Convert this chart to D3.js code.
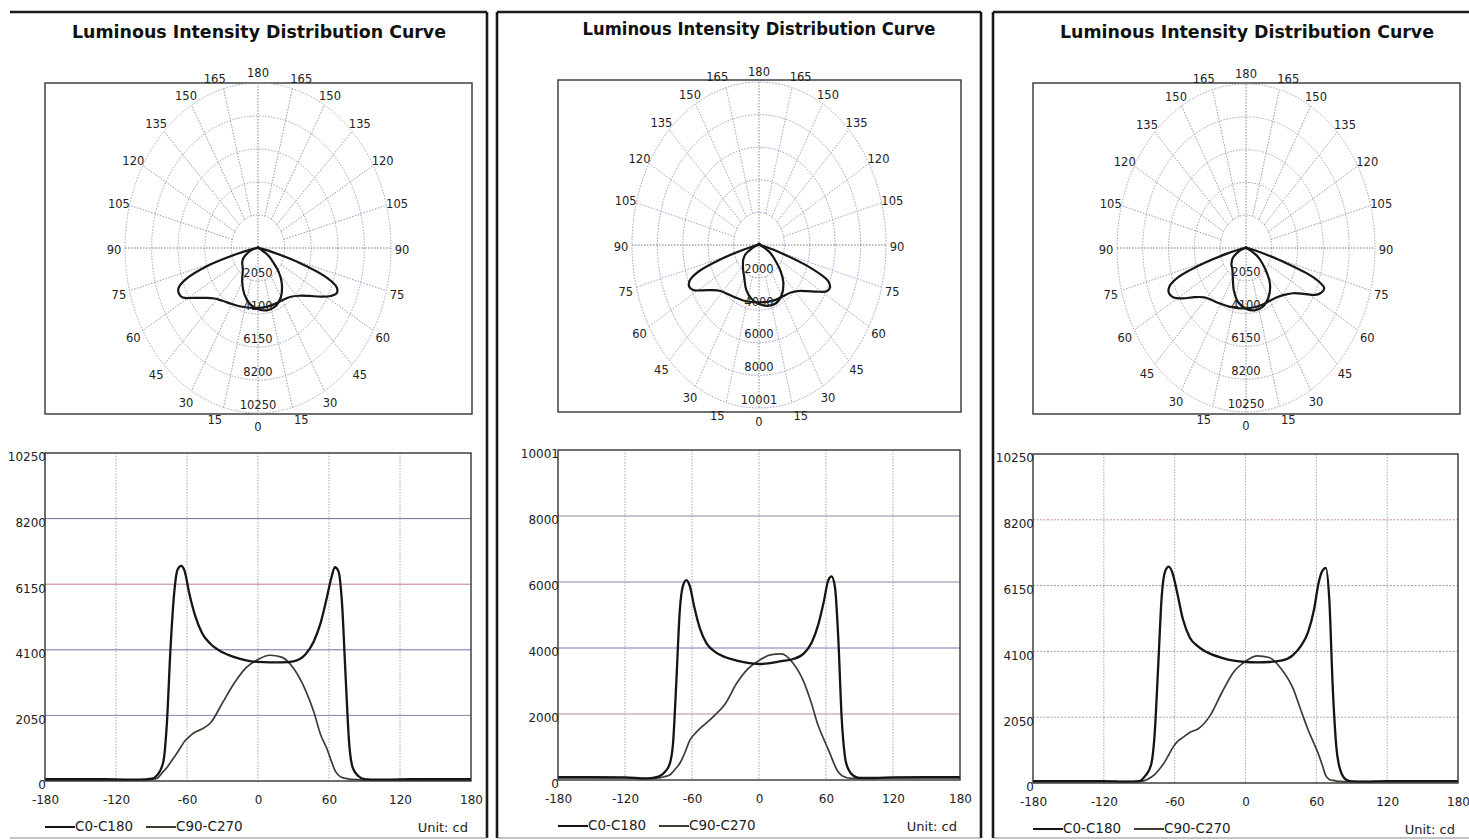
<!DOCTYPE html>
<html><head><meta charset="utf-8">
<script src="https://cdn.jsdelivr.net/npm/d3@7"></script>
<style>body{margin:0;background:#fff;overflow:hidden}svg{display:block}</style>
</head><body>
<svg id="c" width="1469" height="840"></svg>
<script>
// ---------- DATA ----------
const titleText = "Luminous Intensity Distribution Curve";
const seriesNames = ["C0-C180", "C90-C270"];
const unitText = "Unit: cd";
const angles = [-180,-150,-120,-100,-90,-85,-80,-77,-74,-71,-68,-65,-62,-58,-53,-47,-40,-30,-20,-10,0,10,20,30,40,47,53,58,62,65,68,71,74,77,80,85,90,100,120,150,180];

const p1C0  = [60,60,50,40,70,190,600,1800,4100,5800,6600,6720,6560,5850,5150,4600,4280,4020,3870,3770,3720,3710,3710,3740,3950,4350,4950,5700,6350,6680,6550,5550,3300,1200,420,150,60,40,50,60,60];
const p1C90 = [30,30,30,30,50,90,300,420,580,740,900,1070,1240,1390,1530,1630,1820,2440,3060,3540,3800,3930,3870,3520,2850,2180,1440,1030,620,330,180,110,80,60,50,40,30,30,30,30,30];
const p2C0  = [90,90,80,50,100,220,480,1100,3000,5100,5900,6060,5880,5250,4600,4140,3900,3720,3620,3550,3515,3540,3600,3660,3830,4150,4700,5400,6050,6170,5850,4300,1900,700,330,120,60,60,80,90,90];
const p2C90 = [60,60,60,40,60,100,150,250,370,500,700,950,1200,1380,1560,1730,1950,2320,2930,3370,3620,3790,3820,3560,2980,2320,1650,1240,930,680,430,240,140,90,60,50,50,50,60,60,60];
const p3C0  = [60,60,60,40,60,220,560,1500,3600,5800,6600,6740,6560,5950,5100,4520,4250,4030,3900,3810,3770,3760,3770,3810,3980,4270,4700,5400,6250,6600,6700,5700,2900,1100,440,110,50,40,60,60,60];
const p3C90 = [40,40,40,40,50,80,180,260,380,520,680,880,1080,1280,1420,1580,1690,2100,2820,3460,3790,3960,3910,3570,2970,2260,1660,1230,880,560,230,110,80,60,50,40,40,40,40,40,40];

const rings1 = [2050,4100,6150,8200,10250];
const rings2 = [2000,4000,6000,8000,10001];
const rings3 = [2050,4100,6150,8200,10250];
const yTicks1 = [0,2050,4100,6150,8200,10250];
const yTicks2 = [0,2000,4000,6000,8000,10001];
const yTicks3 = [0,2050,4100,6150,8200,10250];
const xTicks = [-180,-120,-60,0,60,120,180];
const angleLabels = [0,15,30,45,60,75,90,105,120,135,150,165,180];

// ---------- LAYOUT / STYLE ----------
const panels = [
  {c0:p1C0, c90:p1C90, rings:rings1, yTicks:yTicks1,
   title:{x:259,y:33,len:374},
   polar:{bx0:45,by0:83,bx1:472,by1:414,cx:258,cy:248,rx:133,ry:165},
   cart:{x0:45,x1:471,y0:453,y1:781},
   ringCol:"#9aa6b4", spokeCol:"#8e96c4",
   hCols:["#8a80b8","#7a6aa8","#c07a98","#6f7090"], hDash:null},
  {c0:p2C0, c90:p2C90, rings:rings2, yTicks:yTicks2,
   title:{x:759,y:30,len:353},
   polar:{bx0:558,by0:80,bx1:961,by1:412,cx:759,cy:245,rx:127,ry:163},
   cart:{x0:558,x1:960,y0:450,y1:780},
   ringCol:"#9a96cc", spokeCol:"#a4a2c8",
   hCols:["#c08a9a","#7a78b8","#8a88a8","#8a8aa0"], hDash:null},
  {c0:p3C0, c90:p3C90, rings:rings3, yTicks:yTicks3,
   title:{x:1247,y:33,len:374},
   polar:{bx0:1033,by0:83,bx1:1460,by1:414,cx:1246,cy:248,rx:129,ry:164},
   cart:{x0:1033,x1:1458,y0:454,y1:783},
   ringCol:"#b496bc", spokeCol:"#a890b4",
   hCols:["#a0a0b4","#a89ab8","#9c9cb0","#c090a8"], hDash:"2,1.5"}
];
const frames = [
  {x0:10, y0:12, x1:487, y1:838, left:false},
  {x0:497, y0:12, x1:981, y1:838, left:true},
  {x0:993, y0:12, x1:1475, y1:838, left:true}
];
const FONT = "'DejaVu Sans', Verdana, sans-serif";

const svg = d3.select("#c");

// frames
frames.forEach(f => {
  const g = svg.append("g").attr("stroke","#1a1a1a").attr("stroke-width",2.6).attr("fill","none");
  g.append("line").attr("x1",f.x0).attr("y1",f.y0).attr("x2",f.x1).attr("y2",f.y0);
  g.append("line").attr("x1",f.x1).attr("y1",f.y0).attr("x2",f.x1).attr("y2",f.y1);
  g.append("line").attr("x1",f.x0).attr("y1",f.y1).attr("x2",f.x1).attr("y2",f.y1).attr("stroke","#888").attr("stroke-width",1.2);
  if (f.left) g.append("line").attr("x1",f.x0).attr("y1",f.y0).attr("x2",f.x0).attr("y2",f.y1);
});

const rad = d => d*Math.PI/180;

panels.forEach(P => {
  const g = svg.append("g");
  // title
  g.append("text").attr("x",P.title.x).attr("y",P.title.y)
    .attr("text-anchor","middle").attr("dominant-baseline","middle")
    .attr("font-family",FONT).attr("font-weight","bold").attr("font-size",17)
    .attr("fill","#111").attr("textLength",P.title.len).attr("lengthAdjust","spacingAndGlyphs")
    .text(titleText);

  // ---------- polar ----------
  const q = P.polar;
  const rmax = P.rings[P.rings.length-1];
  const sx = d3.scaleLinear().domain([0,rmax]).range([0,q.rx]);
  const sy = d3.scaleLinear().domain([0,rmax]).range([0,q.ry]);
  const pg = g.append("g");
  pg.append("rect").attr("x",q.bx0).attr("y",q.by0).attr("width",q.bx1-q.bx0).attr("height",q.by1-q.by0)
    .attr("fill","#fff").attr("stroke","#333").attr("stroke-width",1.4);
  pg.selectAll("ellipse").data(P.rings).join("ellipse")
    .attr("cx",q.cx).attr("cy",q.cy).attr("rx",d=>sx(d)).attr("ry",d=>sy(d))
    .attr("fill","none").attr("stroke",P.ringCol).attr("stroke-width",1).attr("stroke-dasharray","1.5,1.5");
  const spokeAngles = d3.range(-165,180,15).filter(a => a!==0 && Math.abs(a)!==90);
  const r0 = P.rings[0];
  pg.selectAll("line.sp").data(spokeAngles).join("line").attr("class","sp")
    .attr("x1",a=>q.cx+Math.sin(rad(a))*sx(r0)).attr("y1",a=>q.cy+Math.cos(rad(a))*sy(r0))
    .attr("x2",a=>q.cx+Math.sin(rad(a))*sx(rmax)).attr("y2",a=>q.cy+Math.cos(rad(a))*sy(rmax))
    .attr("stroke",P.spokeCol).attr("stroke-width",1).attr("stroke-dasharray","1.5,1.5");
  pg.append("line").attr("x1",q.cx-sx(rmax)).attr("x2",q.cx+sx(rmax)).attr("y1",q.cy).attr("y2",q.cy)
    .attr("stroke","#777").attr("stroke-width",1).attr("stroke-dasharray","1.5,1.5");
  pg.append("line").attr("x1",q.cx).attr("x2",q.cx).attr("y1",q.cy-sy(rmax)).attr("y2",q.cy+sy(rmax))
    .attr("stroke","#888").attr("stroke-width",1).attr("stroke-dasharray","1.5,1.5");
  const lab = [];
  angleLabels.forEach(a => { lab.push(a); if (a!==0 && a!==180) lab.push(-a); });
  pg.selectAll("text.al").data(lab).join("text").attr("class","al")
    .attr("x",a=>{const extra=(Math.abs(a)===15||Math.abs(a)===165)?Math.sign(a)*6:0;
                  return q.cx+Math.sin(rad(a))*(q.rx+11)+extra;})
    .attr("y",a=>q.cy+Math.cos(rad(a))*(q.ry+12)+2)
    .attr("text-anchor","middle").attr("dominant-baseline","middle")
    .attr("font-family",FONT).attr("font-size",11.5).attr("fill","#222")
    .text(a=>Math.abs(a));
  const polarLine = d3.line()
    .x((v,i)=>q.cx+Math.sin(rad(angles[i]))*sx(v))
    .y((v,i)=>q.cy+Math.cos(rad(angles[i]))*sy(v))
    .curve(d3.curveCatmullRom.alpha(0.5));
  [P.c90, P.c0].forEach(s => {
    pg.append("path").attr("d",polarLine(s)).attr("fill","none")
      .attr("stroke","#161616").attr("stroke-width",2.2).attr("stroke-linejoin","round");
  });
  pg.selectAll("text.rl").data(P.rings).join("text").attr("class","rl")
    .attr("x",q.cx).attr("y",d=>q.cy+sy(d)-8)
    .attr("text-anchor","middle").attr("dominant-baseline","middle")
    .attr("font-family",FONT).attr("font-size",11.5).attr("fill","#222")
    .text(d=>d);

  // ---------- cartesian ----------
  const c = P.cart;
  const ymax = P.yTicks[P.yTicks.length-1];
  const x = d3.scaleLinear().domain([-180,180]).range([c.x0,c.x1]);
  const y = d3.scaleLinear().domain([0,ymax]).range([c.y1,c.y0]);
  const cg = g.append("g");
  cg.append("rect").attr("x",c.x0).attr("y",c.y0).attr("width",c.x1-c.x0).attr("height",c.y1-c.y0)
    .attr("fill","#fff");
  cg.selectAll("line.vg").data(xTicks.slice(1,-1)).join("line").attr("class","vg")
    .attr("x1",d=>x(d)).attr("x2",d=>x(d)).attr("y1",c.y0).attr("y2",c.y1)
    .attr("stroke","#a8a8b0").attr("stroke-width",1).attr("stroke-dasharray","1.5,1.5");
  cg.selectAll("line.hg").data(P.yTicks.slice(1,-1)).join("line").attr("class","hg")
    .attr("x1",c.x0).attr("x2",c.x1).attr("y1",d=>y(d)).attr("y2",d=>y(d))
    .attr("stroke",(d,i)=>P.hCols[i]).attr("stroke-width",1)
    .attr("stroke-dasharray",P.hDash);
  const line = d3.line().x((v,i)=>x(angles[i])).y(v=>y(v)).curve(d3.curveMonotoneX);
  cg.append("path").attr("d",line(P.c90)).attr("fill","none").attr("stroke","#3b3d33").attr("stroke-width",1.7);
  cg.append("path").attr("d",line(P.c0)).attr("fill","none").attr("stroke","#151515").attr("stroke-width",2.3);
  cg.append("rect").attr("x",c.x0).attr("y",c.y0).attr("width",c.x1-c.x0).attr("height",c.y1-c.y0)
    .attr("fill","none").attr("stroke","#333").attr("stroke-width",1.4);
  const xa = cg.append("g").attr("transform",`translate(0,${c.y1})`)
    .call(d3.axisBottom(x).tickValues(xTicks).tickSize(0).tickPadding(14).tickFormat(d=>String(d)));
  xa.select(".domain").remove();
  xa.selectAll("text").attr("font-family",FONT).attr("font-size",12).attr("fill","#222");
  const ya = cg.append("g").attr("transform",`translate(${c.x0+1},0)`)
    .call(d3.axisLeft(y).tickValues(P.yTicks).tickSize(0).tickPadding(0).tickFormat(d=>String(d)));
  ya.select(".domain").remove();
  ya.selectAll("text").attr("font-family",FONT).attr("font-size",12).attr("fill","#222").attr("dy","0.65em");
  const ly = c.y1 + 46;
  seriesNames.forEach((n,i) => {
    const lx = c.x0 + i*101;
    cg.append("line").attr("x1",lx).attr("x2",lx+30).attr("y1",ly).attr("y2",ly)
      .attr("stroke",i===0?"#151515":"#3b3d33").attr("stroke-width",2);
    cg.append("text").attr("x",lx+30).attr("y",ly).attr("dominant-baseline","middle")
      .attr("font-family",FONT).attr("font-size",13.5).attr("fill","#222").text(n);
  });
  cg.append("text").attr("x",c.x1-3).attr("y",c.y1+47).attr("text-anchor","end")
    .attr("dominant-baseline","middle").attr("font-family",FONT).attr("font-size",13)
    .attr("fill","#222").text(unitText);
});
</script>
</body></html>
